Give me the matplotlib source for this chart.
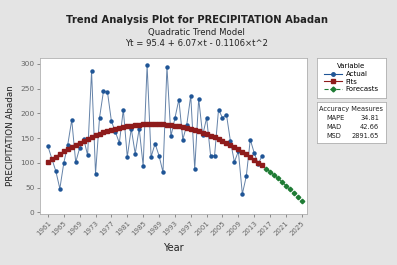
import matplotlib
matplotlib.use("Agg")
import matplotlib.pyplot as plt
from matplotlib.lines import Line2D

years = list(range(1961, 2016))
forecast_years = list(range(2016, 2026))

actual = [133.6, 108, 83, 47.8, 99.8, 136.8, 186.8, 101.2, 130.2, 149, 115.4,
          285.4, 78.1, 190.9, 244.9, 243.5, 184.2, 162.6, 140.3, 207.7, 111.9,
          169.3, 118.6, 169.3, 94.3, 297.6, 111.9, 138.9, 114.6, 81, 294.1,
          153.8, 190, 228, 147, 177.3, 236, 87.7, 230, 155.9, 190.9, 114.6,
          114.6, 207.7, 190.9, 197.6, 143.7, 101.8, 123.5, 37, 72.9, 147, 120,
          97.8, 114.6]

fits = [101.36, 107.10, 112.61, 117.91, 122.99, 127.84, 132.47, 136.88, 141.07,
        145.04, 148.79, 152.31, 155.62, 158.70, 161.57, 164.21, 166.63, 168.83,
        170.80, 172.56, 174.10, 175.41, 176.50, 177.37, 178.03, 178.45, 178.66,
        178.65, 178.42, 177.96, 177.28, 176.39, 175.27, 173.93, 172.37, 170.58,
        168.58, 166.35, 163.91, 161.24, 158.35, 155.24, 151.91, 148.36, 144.59,
        140.59, 136.37, 131.94, 127.28, 122.40, 117.30, 111.98, 106.43, 100.67,
        94.69]

forecasts = [88.48, 82.05, 75.40, 68.53, 61.44, 54.13, 46.59, 38.84, 30.86, 22.67]

xticks = list(range(1961, 2026, 4))
yticks = [0, 50, 100, 150, 200, 250, 300]

measures = ["MAPE", "MAD", "MSD"]
measure_values = ["34.81", "42.66", "2891.65"]

blue = "#1f5596"
red = "#8e1b1b"
green = "#1e7b34"
bg = "#e4e4e4"

fig = plt.figure(figsize=(3.97, 2.65), dpi=100, facecolor=bg)
ax = fig.add_axes([40 / 397, 1 - 214 / 265, 267 / 397, 156 / 265])

ax.plot(years, actual, color="#6482a8", linewidth=0.7, marker="o",
        markersize=2.2, markerfacecolor=blue, markeredgecolor=blue, zorder=2)
ax.plot(years, fits, color=red, linewidth=0.8, marker="s", markersize=2.2,
        markerfacecolor=red, markeredgecolor=red, zorder=3)
ax.plot(forecast_years, forecasts, color=green, linewidth=0.8, linestyle="--",
        marker="D", markersize=2.3, markerfacecolor=green,
        markeredgecolor=green, zorder=3)

ax.set_xlim(1959.0, 2026.3)
ax.set_ylim(-3.4, 312)
ax.set_xticks(xticks)
ax.set_xticklabels([str(y) for y in xticks], rotation=45, ha="right",
                   rotation_mode="anchor", fontsize=5, color="#333333")
ax.set_yticks(yticks)
ax.set_yticklabels([str(y) for y in yticks], fontsize=5.3, color="#333333")
ax.tick_params(length=2.5, width=0.5, colors="#666666", pad=1.5)
for s in ax.spines.values():
    s.set_color("#b0b0b0")
    s.set_linewidth(0.6)
ax.set_xlabel("Year", fontsize=7, color="#222222", labelpad=5)
ax.set_ylabel("PRECIPITATION Abadan", fontsize=6.3, color="#222222", labelpad=4)

fig.text(0.495, 0.925, "Trend Analysis Plot for PRECIPITATION Abadan",
         ha="center", va="center", fontsize=7.2, fontweight="bold", color="#222222")
fig.text(0.495, 0.877, "Quadratic Trend Model", ha="center", va="center",
         fontsize=6.1, color="#222222")
fig.text(0.495, 0.834, "Yt = 95.4 + 6.07\u00d7t - 0.1106\u00d7t^2",
         ha="center", va="center", fontsize=6.1, color="#222222")

# legend box
lax = fig.add_axes([316.7 / 397, 1 - 98 / 265, 69.3 / 397, 40.3 / 265])
lax.set_xticks([])
lax.set_yticks([])
for s in lax.spines.values():
    s.set_color("#b0b0b0")
    s.set_linewidth(0.6)
handles = [
    Line2D([], [], color=blue, marker="o", markersize=2.5, linewidth=0.8),
    Line2D([], [], color=red, marker="s", markersize=2.5, linewidth=0.8),
    Line2D([], [], color=green, marker="D", markersize=2.5, linewidth=0.8,
           linestyle="--"),
]
leg = lax.legend(handles, ["Actual", "Fits", "Forecasts"], title="Variable",
                 loc="center", frameon=False, fontsize=5, title_fontsize=5,
                 handlelength=2.6, handletextpad=0.5, labelspacing=0.25,
                 borderpad=0.1)

# accuracy box
aax = fig.add_axes([316.7 / 397, 1 - 143.3 / 265, 69.3 / 397, 41.6 / 265])
aax.set_xticks([])
aax.set_yticks([])
aax.set_xlim(0, 1)
aax.set_ylim(0, 1)
for s in aax.spines.values():
    s.set_color("#b0b0b0")
    s.set_linewidth(0.6)
aax.text(0.5, 0.83, "Accuracy Measures", ha="center", va="center",
         fontsize=4.8, color="#222222")
for i, (m, v) in enumerate(zip(measures, measure_values)):
    yy = 0.6 - i * 0.21
    aax.text(0.14, yy, m, ha="left", va="center", fontsize=4.8, color="#222222")
    aax.text(0.9, yy, v, ha="right", va="center", fontsize=4.8, color="#222222")

fig.savefig("out.png", dpi=100, facecolor=bg)
